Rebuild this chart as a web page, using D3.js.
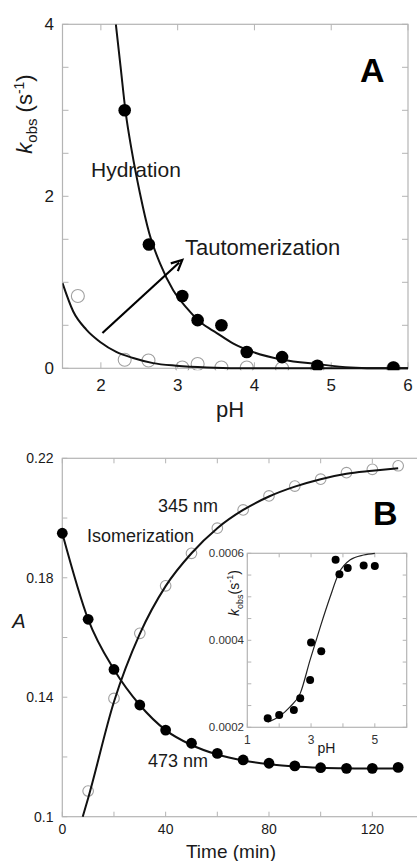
<!DOCTYPE html>
<html><head><meta charset="utf-8">
<script src="https://cdn.jsdelivr.net/npm/d3@7"></script>
<style>body{margin:0;background:#fff}svg{display:block;font-family:"Liberation Sans",Arial,sans-serif}</style>
</head><body>
<svg id="c" width="417" height="861"></svg>
<script>
// ---------- Panel A data ----------
const hydPH = [2.31, 2.625, 3.06, 3.26, 3.57, 3.90, 4.36, 4.82, 5.81];
const hydK  = [3.00, 1.44, 0.84, 0.56, 0.50, 0.19, 0.13, 0.03, 0.01];
const tauPH = [1.70, 2.31, 2.62, 3.06, 3.26, 3.57, 3.90, 4.36, 4.82, 5.81];
const tauK  = [0.84, 0.10, 0.09, 0.01, 0.05, 0.01, 0.01, 0.00, 0.00, 0.00];
const hydFitPH = [2.195, 2.256, 2.325, 2.40, 2.51, 2.63, 2.77, 2.94, 3.12, 3.29, 3.51, 3.72, 3.98, 4.37, 4.81, 5.25, 5.68, 6.0];
const hydFitK  = [4.0, 3.51, 2.96, 2.54, 2.03, 1.57, 1.22, 0.91, 0.70, 0.54, 0.41, 0.29, 0.19, 0.10, 0.05, 0.01, 0.0, 0.0];
const tauFitPH = [1.5, 1.64, 1.81, 2.0, 2.20, 2.42, 2.68, 2.98, 3.38, 4.0, 6.0];
const tauFitK  = [0.99, 0.66, 0.45, 0.30, 0.19, 0.12, 0.06, 0.03, 0.01, 0.0, 0.0];
const aXTicks = [2, 3, 4, 5, 6];
const aYTicks = [0, 2, 4];
const aYMinor = [0.5, 1, 1.5, 2.5, 3, 3.5];

// ---------- Panel B data ----------
const timeMin = [0, 10, 20, 30, 40, 50, 60, 70, 80, 90, 100, 110, 120, 130];
const abs473  = [0.1949, 0.1661, 0.1493, 0.1374, 0.1290, 0.1246, 0.1212, 0.1190, 0.1179, 0.1170, 0.1164, 0.1162, 0.1162, 0.1165];
const time345 = [10, 20, 30, 40, 50, 60, 70, 80, 90, 100, 110, 120, 130];
const abs345  = [0.1086, 0.1396, 0.1614, 0.1773, 0.1882, 0.1966, 0.2027, 0.2074, 0.2107, 0.2130, 0.2152, 0.2163, 0.2175];
const fit473T = [0, 10, 20, 30, 40, 50, 60, 70, 80, 90, 100, 110, 120, 130];
const fit473A = [0.1949, 0.1661, 0.1493, 0.1374, 0.1290, 0.1240, 0.1208, 0.1188, 0.1176, 0.1168, 0.1164, 0.1162, 0.1161, 0.1161];
const fit345T = [7.9, 10, 20, 30, 40, 50, 60, 70, 80, 90, 100, 110, 120, 130];
const fit345A = [0.1, 0.1062, 0.1385, 0.1612, 0.1772, 0.1882, 0.1966, 0.2027, 0.2072, 0.2105, 0.2130, 0.2148, 0.2158, 0.2167];
const bXTicks = [0, 40, 80, 120];
const bXMinor = [20, 60, 100, 140];
const bYTicks = [0.1, 0.14, 0.18, 0.22];
const bYMinor = [0.12, 0.16, 0.20];

// ---------- Inset data ----------
const insPH = [1.64, 2.0, 2.46, 2.66, 2.97, 3.0, 3.32, 3.77, 3.89, 4.15, 4.65, 5.0];
const insK  = [0.000221, 0.000228, 0.000240, 0.000267, 0.000309, 0.000395, 0.000375, 0.000585, 0.000552, 0.000566, 0.000572, 0.000571];
const insFitPH = [1.64, 2.0, 2.34, 2.66, 2.97, 3.29, 3.6, 3.87, 4.23, 4.65, 5.0];
const insFitK  = [0.000212, 0.000225, 0.000247, 0.000278, 0.000355, 0.000431, 0.000500, 0.000554, 0.000585, 0.000596, 0.000600];
const insXTicks = [1, 3, 5];
const insXMinor = [2, 4, 6];
const insYTicks = [0.0002, 0.0004, 0.0006];
const insYMinor = [0.00025, 0.0003, 0.00035, 0.00045, 0.0005, 0.00055];

const svg = d3.select("#c");
const frameCol = "#b4b4b4";
const txtCol = "#1a1a1a";

function frame(g, x, y, xt, yt, tickLen, xMinor, yMinor) {
  const [x0, x1] = x.range(), [y0, y1] = y.range();
  g.append("rect").attr("x", x0).attr("y", y1).attr("width", x1 - x0).attr("height", y0 - y1)
    .attr("fill", "#fff").attr("stroke", frameCol).attr("stroke-width", 1.2);
  const allX = xt.concat(xMinor || []), allY = yt.concat(yMinor || []);
  allX.forEach(v => {
    g.append("line").attr("x1", x(v)).attr("x2", x(v)).attr("y1", y0).attr("y2", y0 - tickLen).attr("stroke", frameCol);
    g.append("line").attr("x1", x(v)).attr("x2", x(v)).attr("y1", y1).attr("y2", y1 + tickLen).attr("stroke", frameCol);
  });
  allY.forEach(v => {
    g.append("line").attr("y1", y(v)).attr("y2", y(v)).attr("x1", x0).attr("x2", x0 + tickLen).attr("stroke", frameCol);
    g.append("line").attr("y1", y(v)).attr("y2", y(v)).attr("x1", x1).attr("x2", x1 - tickLen).attr("stroke", frameCol);
  });
}

// ================= Panel A =================
{
  const x = d3.scaleLinear().domain([1.5, 6]).range([62.5, 408]);
  const y = d3.scaleLinear().domain([0, 4]).range([368.3, 24.3]);
  const g = svg.append("g");
  frame(g, x, y, aXTicks, aYTicks, 6, [], aYMinor);
  const clipA = svg.append("clipPath").attr("id", "clipA");
  clipA.append("rect").attr("x", 62.5).attr("y", 24.3).attr("width", 345.5).attr("height", 346);

  g.selectAll(".xl").data(aXTicks).join("text").attr("x", d => x(d)).attr("y", 391)
    .attr("text-anchor", "middle").attr("font-size", 17).attr("fill", txtCol).text(d => d);
  g.selectAll(".yl").data(aYTicks).join("text").attr("x", 54).attr("y", d => y(d) + 6)
    .attr("text-anchor", "end").attr("font-size", 17).attr("fill", txtCol).text(d => d);

  g.append("text").attr("x", 230).attr("y", 417).attr("text-anchor", "middle").attr("font-size", 22).attr("fill", txtCol).text("pH");
  const yl = g.append("text").attr("transform", "translate(32,114) rotate(-90)").attr("text-anchor", "middle")
    .attr("font-size", 22).attr("fill", txtCol);
  yl.append("tspan").attr("font-style", "italic").text("k");
  yl.append("tspan").attr("font-size", 15).attr("dy", 5).text("obs");
  yl.append("tspan").attr("dy", -5).text(" (s");
  yl.append("tspan").attr("font-size", 14).attr("dy", -8).text("-1");
  yl.append("tspan").attr("dy", 8).text(")");

  const line = d3.line().x(d => x(d[0])).y(d => y(d[1])).curve(d3.curveMonotoneX);
  const pl = g.append("g").attr("clip-path", "url(#clipA)");
  // open circles
  pl.selectAll(".oc").data(d3.zip(tauPH, tauK)).join("circle").attr("cx", d => x(d[0])).attr("cy", d => y(d[1]))
    .attr("r", 6.5).attr("fill", "none").attr("stroke", "#a0a0a0").attr("stroke-width", 1.1);
  pl.append("path").datum(d3.zip(hydFitPH, hydFitK)).attr("d", line).attr("fill", "none").attr("stroke", "#111").attr("stroke-width", 2);
  pl.append("path").datum(d3.zip(tauFitPH, tauFitK)).attr("d", line).attr("fill", "none").attr("stroke", "#111").attr("stroke-width", 2);
  pl.selectAll(".fc").data(d3.zip(hydPH, hydK)).join("circle").attr("cx", d => x(d[0])).attr("cy", d => y(d[1]))
    .attr("r", 6.3).attr("fill", "#000");

  // arrow
  const ax0 = x(2.02), ay0 = y(0.41), ax1 = x(3.06), ay1 = y(1.26);
  g.append("line").attr("x1", ax0).attr("y1", ay0).attr("x2", ax1 - 3).attr("y2", ay1 + 2.5).attr("stroke", "#000").attr("stroke-width", 2.2);
  const ang = Math.atan2(ay1 - ay0, ax1 - ax0);
  const hl = 12, hw = 0.45;
  g.append("path").attr("d", `M${ax1 - hl*Math.cos(ang - hw)},${ay1 - hl*Math.sin(ang - hw)} L${ax1},${ay1} L${ax1 - hl*Math.cos(ang + hw)},${ay1 - hl*Math.sin(ang + hw)}`)
    .attr("fill", "none").attr("stroke", "#000").attr("stroke-width", 2.2);

  g.append("text").attr("x", 91).attr("y", 177).attr("font-size", 21).attr("fill", txtCol).text("Hydration");
  g.append("text").attr("x", 185).attr("y", 255).attr("font-size", 22).attr("fill", txtCol).text("Tautomerization");
  g.append("text").attr("x", 360).attr("y", 82).attr("font-size", 34).attr("font-weight", "bold").attr("fill", "#000").text("A");
}

// ================= Panel B =================
{
  const x = d3.scaleLinear().domain([0, 140]).range([62.3, 424]);
  const y = d3.scaleLinear().domain([0.1, 0.22]).range([816.7, 458.3]);
  const g = svg.append("g");
  frame(g, x, y, bXTicks, bYTicks, 5, bXMinor, bYMinor);

  g.selectAll(".xl").data(bXTicks).join("text").attr("x", d => x(d)).attr("y", 834)
    .attr("text-anchor", "middle").attr("font-size", 14).attr("fill", txtCol).text(d => d);
  g.selectAll(".yl").data(bYTicks).join("text").attr("x", 53.5).attr("y", d => y(d) + 5)
    .attr("text-anchor", "end").attr("font-size", 14).attr("fill", txtCol).text(d => d);
  g.append("text").attr("x", 231).attr("y", 858).attr("text-anchor", "middle").attr("font-size", 19).attr("fill", txtCol).text("Time (min)");
  g.append("text").attr("x", 19).attr("y", 628).attr("text-anchor", "middle").attr("font-size", 20).attr("font-style", "italic").attr("fill", txtCol).text("A");

  const line = d3.line().x(d => x(d[0])).y(d => y(d[1])).curve(d3.curveMonotoneX);
  g.selectAll(".oc").data(d3.zip(time345, abs345)).join("circle").attr("cx", d => x(d[0])).attr("cy", d => y(d[1]))
    .attr("r", 5.3).attr("fill", "none").attr("stroke", "#a0a0a0").attr("stroke-width", 1.1);
  g.append("path").datum(d3.zip(fit345T, fit345A)).attr("d", line).attr("fill", "none").attr("stroke", "#111").attr("stroke-width", 2);
  g.append("path").datum(d3.zip(fit473T, fit473A)).attr("d", line).attr("fill", "none").attr("stroke", "#111").attr("stroke-width", 2);
  g.selectAll(".fc").data(d3.zip(timeMin, abs473)).join("circle").attr("cx", d => x(d[0])).attr("cy", d => y(d[1]))
    .attr("r", 5.4).attr("fill", "#000");

  g.append("text").attr("x", 158).attr("y", 512).attr("font-size", 18).attr("fill", txtCol).text("345 nm");
  g.append("text").attr("x", 87).attr("y", 542).attr("font-size", 18).attr("fill", txtCol).text("Isomerization");
  g.append("text").attr("x", 148).attr("y", 767).attr("font-size", 18).attr("fill", txtCol).text("473 nm");
  g.append("text").attr("x", 373).attr("y", 525).attr("font-size", 34).attr("font-weight", "bold").attr("fill", "#000").text("B");

  // ---------- Inset ----------
  const xi = d3.scaleLinear().domain([1, 6]).range([247.3, 406.7]);
  const yi = d3.scaleLinear().domain([0.0002, 0.0006]).range([727.3, 553.3]);
  const gi = svg.append("g");
  frame(gi, xi, yi, insXTicks, insYTicks, 4, insXMinor, insYMinor);
  gi.selectAll(".xl").data(insXTicks).join("text").attr("x", d => xi(d)).attr("y", 744)
    .attr("text-anchor", "middle").attr("font-size", 12).attr("fill", "#333").text(d => d);
  gi.selectAll(".yl").data(insYTicks).join("text").attr("x", 244).attr("y", d => yi(d) + 4)
    .attr("text-anchor", "end").attr("font-size", 11.5).attr("fill", "#333").text(d => d);
  gi.append("text").attr("x", 326.5).attr("y", 752.5).attr("text-anchor", "middle").attr("font-size", 14).attr("fill", txtCol).text("pH");
  const il = gi.append("text").attr("transform", "translate(239,593) rotate(-90)").attr("text-anchor", "middle")
    .attr("font-size", 14).attr("fill", txtCol);
  il.append("tspan").attr("font-style", "italic").text("k");
  il.append("tspan").attr("font-size", 9).attr("dy", 4).text("obs");
  il.append("tspan").attr("dy", -4).text("(s");
  il.append("tspan").attr("font-size", 9).attr("dy", -6).text("-1");
  il.append("tspan").attr("dy", 6).text(")");

  gi.append("path").datum(d3.zip(insFitPH, insFitK)).attr("d", d3.line().x(d => xi(d[0])).y(d => yi(d[1])).curve(d3.curveMonotoneX))
    .attr("fill", "none").attr("stroke", "#222").attr("stroke-width", 1.2);
  gi.selectAll(".fc").data(d3.zip(insPH, insK)).join("circle").attr("cx", d => xi(d[0])).attr("cy", d => yi(d[1]))
    .attr("r", 4).attr("fill", "#000");
}
</script>
</body></html>
